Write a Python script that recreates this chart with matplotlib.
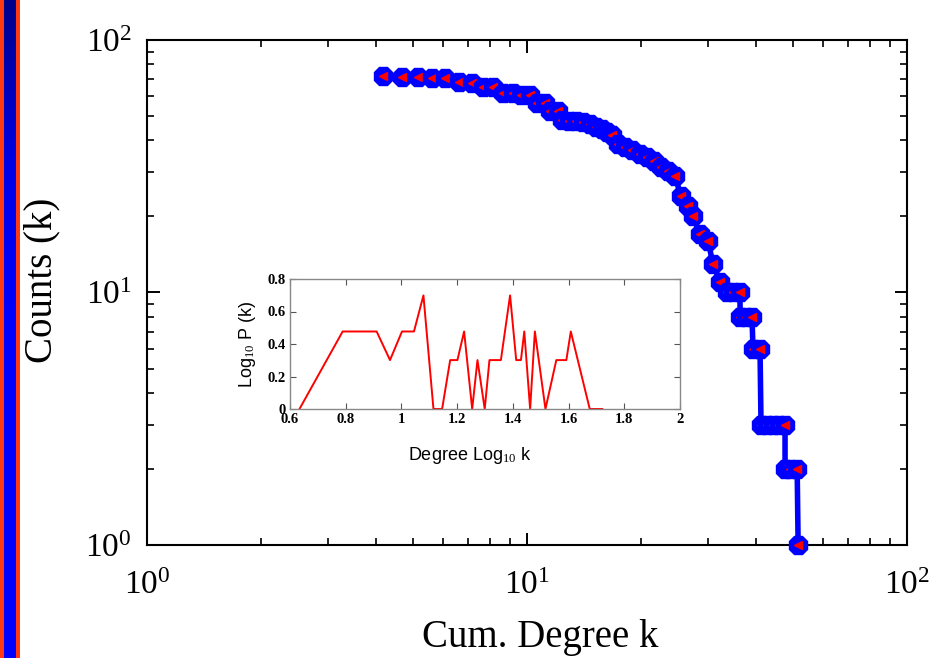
import numpy as np
import matplotlib
matplotlib.use("Agg")
import matplotlib.pyplot as plt
from matplotlib.colors import LinearSegmentedColormap

# ---------------- data ----------------
main_k = [4.18, 4.69, 5.17, 5.62, 6.08, 6.62, 7.17, 7.66, 8.14, 8.65, 9.19, 9.64,
          10.18, 10.62, 11.15, 11.50, 12.06, 12.37, 12.90, 13.46, 14.04, 14.65,
          15.19, 15.75, 16.24, 16.74, 17.36, 18.11, 18.90, 19.84, 20.70, 21.59,
          22.52, 23.50, 24.52, 25.43, 26.53, 27.35, 28.53, 29.94, 30.87, 32.21,
          33.60, 34.84, 36.36, 36.36, 37.71, 39.09, 39.33, 41.04, 41.29, 42.82,
          44.41, 46.06, 47.76, 47.76, 49.23, 51.4, 51.7]
main_counts = [72, 71.4, 71.4, 70.7, 70.7, 68.2, 67.5, 65.2, 65.2, 61.7, 61.7, 60.6,
               60.6, 56.3, 56.3, 52.3, 52.3, 48.2, 47.8, 47.8, 47.3, 46.5,
               45.2, 44.4, 43.2, 42.1, 38.7, 37.7, 36.7, 35.4, 34.4, 33.2,
               31.4, 30.3, 28.9, 24, 22, 20, 17, 16, 13, 11,
               10, 10, 10, 8, 8, 8, 6, 6, 3, 3,
               3, 3, 3, 2, 2, 2, 1]

inset_logk = [0.634, 0.789, 0.911, 0.959, 1.002, 1.045, 1.079, 1.115, 1.146, 1.175,
              1.201, 1.225, 1.254, 1.273, 1.299, 1.316, 1.357, 1.390, 1.412, 1.429,
              1.441, 1.462, 1.479, 1.517, 1.556, 1.592, 1.608, 1.676, 1.721]
inset_logp = [0, 0.477, 0.477, 0.301, 0.477, 0.477, 0.699, 0, 0, 0.301,
              0.301, 0.477, 0, 0.301, 0, 0.301, 0.301, 0.699, 0.301, 0.301,
              0.477, 0, 0.477, 0, 0.301, 0.301, 0.477, 0, 0]

main_ticks = [1, 10, 100]
main_ticklabels = [r"$10^{0}$", r"$10^{1}$", r"$10^{2}$"]
inset_xticks = [0.6, 0.8, 1.0, 1.2, 1.4, 1.6, 1.8, 2.0]
inset_xticklabels = ["0.6", "0.8", "1", "1.2", "1.4", "1.6", "1.8", "2"]
inset_yticks = [0, 0.2, 0.4, 0.6, 0.8]
inset_yticklabels = ["0", "0.2", "0.4", "0.6", "0.8"]

# ---------------- style ----------------
plt.rcParams["mathtext.fontset"] = "custom"
plt.rcParams["mathtext.rm"] = "Liberation Serif"
plt.rcParams["mathtext.it"] = "Liberation Serif:italic"
plt.rcParams["mathtext.bf"] = "Liberation Serif:bold"
plt.rcParams["font.family"] = ["Liberation Serif", "DejaVu Serif"]

W, H = 933, 658
fig = plt.figure(figsize=(W / 100, H / 100), dpi=100)
fig.patch.set_facecolor("white")

# left decorative stripe
rax = fig.add_axes([0, 0, 20 / W, 1], zorder=0)
rax.set_axis_off()
rax.add_patch(plt.Rectangle((0, 0), 1, 1, transform=rax.transAxes, color="#ff3a10"))
sax = fig.add_axes([3.5 / W, 0, 11.5 / W, 1], zorder=1)
grad = np.linspace(0, 1, 256).reshape(-1, 1)
cmap = LinearSegmentedColormap.from_list("g", ["#0000ff", "#0000ff", "#0000ff", "#0000e6", "#00008a"])
sax.imshow(grad, aspect="auto", cmap=cmap, origin="lower", extent=[0, 1, 0, 1])
sax.set_axis_off()

# ---------------- main axes ----------------
ax = fig.add_axes([147 / W, (H - 545) / H, 760 / W, 505 / H], zorder=2)
ax.set_xscale("log")
ax.set_yscale("log")
ax.set_xlim(1, 100)
ax.set_ylim(1, 100)

ax.plot(main_k, main_counts, color="blue", lw=4, zorder=2)
for i, (k, c) in enumerate(zip(main_k, main_counts)):
    z = 3 + i * 0.01
    ax.plot([k], [c], marker="8", ms=13.5, color="blue", mec="blue", ls="none",
            zorder=z, clip_on=False)
    ax.plot([k], [c], marker="<", ms=5.5, color="red", mec="red", ls="none",
            zorder=z + 0.005, clip_on=False)

ax.set_xticks(main_ticks)
ax.set_xticklabels(main_ticklabels)
ax.set_yticks(main_ticks)
ax.set_yticklabels(main_ticklabels)
ax.tick_params(which="both", direction="in", top=True, right=True, colors="black")
ax.tick_params(which="major", length=9, width=1.4, labelsize=24)
ax.tick_params(which="minor", length=5, width=1.2)
ax.tick_params(axis="x", which="major", pad=18)
ax.tick_params(axis="y", which="major", pad=11)
for s in ax.spines.values():
    s.set_linewidth(1.5)
    s.set_color("black")

ax.set_xlabel("Cum. Degree k", fontsize=28)
ax.set_ylabel("Counts (k)", fontsize=28)
ax.xaxis.set_label_coords((540 - 147) / 760, (545 - 619) / 505)
ax.yaxis.set_label_coords((60 - 147) / 760, (545 - 280) / 505)

# ---------------- inset ----------------
iax = fig.add_axes([290 / W, (H - 409) / H, 390 / W, 130 / H], zorder=3)
iax.set_facecolor("white")
iax.plot(inset_logk, inset_logp, color="red", lw=1.4)
iax.set_xlim(0.6, 2.0)
iax.set_ylim(0, 0.8)
iax.set_xticks(inset_xticks)
iax.set_xticklabels(inset_xticklabels)
iax.set_yticks(inset_yticks)
iax.set_yticklabels(inset_yticklabels)
iax.tick_params(which="both", direction="in", top=True, right=True, length=4,
                width=0.8, colors="#555555", labelcolor="black", labelsize=10.5, pad=3)
for lab in iax.get_xticklabels() + iax.get_yticklabels():
    lab.set_fontweight("bold")
for s in iax.spines.values():
    s.set_linewidth(1.0)
    s.set_color("#888888")
iax.set_xlabel(r"Degree Log$_{10}$ k", fontsize=13, family=["Liberation Sans", "DejaVu Sans"])
iax.set_ylabel(r"Log$_{10}$ P (k)", fontsize=13, family=["Liberation Sans", "DejaVu Sans"])
iax.xaxis.set_label_coords((470 - 290) / 390, (409 - 445) / 130)
iax.yaxis.set_label_coords((258 - 290) / 390, 0.5)

fig.savefig("out.png", dpi=100)
